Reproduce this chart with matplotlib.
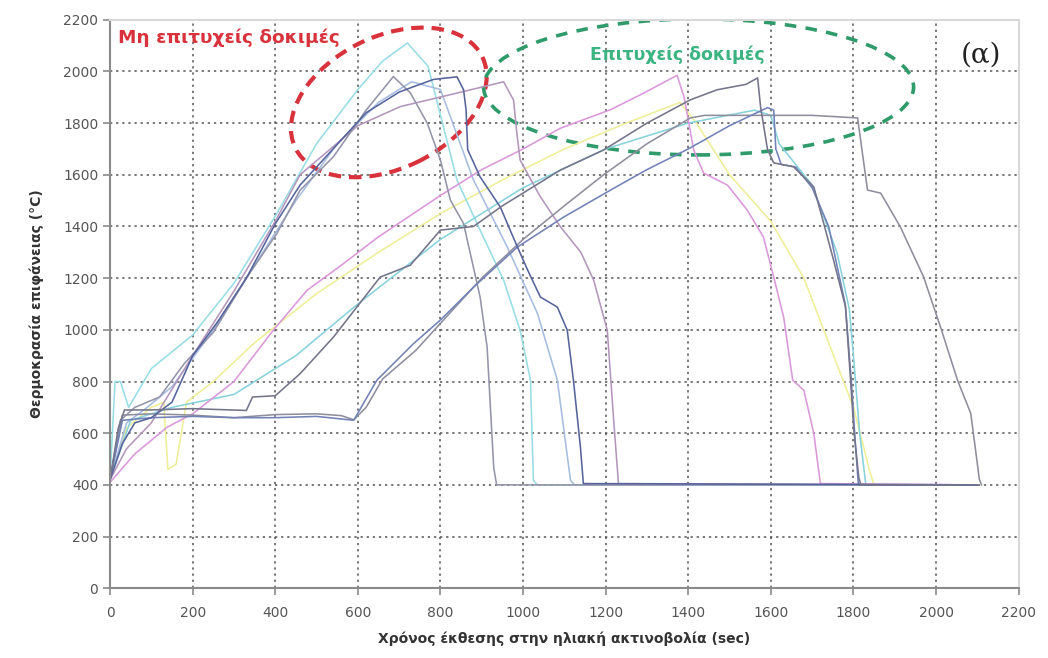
import matplotlib
matplotlib.use("Agg")
import matplotlib.pyplot as plt
from matplotlib.patches import Ellipse
from matplotlib.transforms import Affine2D, ScaledTranslation

plt.rcParams['font.family'] = ['DejaVu Sans']

# Surface temperature (°C) versus exposure time (sec) for each solar test run
# --- unsuccessful runs ---
fail_a_t = [0, 25, 60, 120, 180, 250, 330, 404, 460, 541, 620, 686, 727, 768, 800, 824, 856, 896, 913, 929, 936, 2100]
fail_a_T = [420, 650, 700, 740, 870, 990, 1200, 1373, 1540, 1670, 1850, 1980, 1917, 1800, 1657, 1502, 1411, 1127, 933, 467, 400, 400]

fail_b_t = [0, 30, 60, 100, 150, 200, 260, 330, 400, 460, 540, 620, 700, 735, 783, 840, 856, 862, 866, 896, 945, 976, 1010, 1042, 1083, 1107, 1122, 1139, 1146, 2100]
fail_b_T = [420, 560, 640, 660, 720, 900, 1030, 1200, 1410, 1560, 1700, 1840, 1920, 1941, 1969, 1979, 1929, 1852, 1697, 1592, 1475, 1359, 1235, 1127, 1088, 999, 805, 545, 405, 400]

fail_c_t = [0, 12, 25, 45, 100, 200, 300, 400, 500, 600, 660, 720, 770, 840, 896, 953, 993, 1018, 1025, 1035, 2100]
fail_c_T = [420, 800, 800, 700, 850, 980, 1180, 1440, 1720, 1930, 2040, 2110, 2020, 1580, 1386, 1192, 998, 805, 417, 400, 400]

fail_d_t = [0, 40, 90, 150, 250, 350, 450, 550, 650, 730, 800, 880, 962, 1035, 1083, 1115, 1125, 2100]
fail_d_T = [420, 640, 700, 780, 1000, 1250, 1500, 1720, 1880, 1960, 1930, 1580, 1320, 1063, 805, 417, 400, 400]

fail_e_t = [0, 40, 100, 200, 300, 400, 460, 600, 703, 850, 953, 977, 985, 993, 1040, 1090, 1140, 1171, 1204, 1219, 1231, 2100]
fail_e_T = [420, 540, 640, 900, 1150, 1420, 1600, 1790, 1864, 1920, 1960, 1889, 1761, 1657, 1520, 1400, 1300, 1192, 998, 660, 405, 400]

# --- successful runs ---
ok_pink_t = [0, 60, 138, 201, 300, 395, 477, 560, 650, 800, 900, 1000, 1090, 1212, 1292, 1373, 1390, 1413, 1437, 1495, 1543, 1582, 1607, 1631, 1653, 1680, 1704, 1720, 2100]
ok_pink_T = [410, 520, 623, 676, 800, 998, 1153, 1250, 1360, 1520, 1620, 1700, 1780, 1852, 1916, 1985, 1900, 1697, 1607, 1560, 1463, 1359, 1204, 1049, 805, 766, 599, 405, 400]

ok_yellow_t = [0, 40, 100, 130, 140, 160, 185, 250, 350, 500, 650, 800, 950, 1100, 1250, 1380, 1420, 1500, 1600, 1680, 1740, 1800, 1840, 1850, 2100]
ok_yellow_T = [420, 620, 700, 720, 460, 480, 720, 800, 950, 1140, 1300, 1450, 1580, 1700, 1800, 1880, 1800, 1600, 1420, 1200, 950, 700, 450, 400, 400]

ok_dark_t = [0, 20, 35, 100, 200, 330, 345, 400, 460, 541, 654, 727, 800, 880, 950, 1090, 1195, 1300, 1405, 1470, 1540, 1568, 1575, 1592, 1607, 1655, 1704, 1728, 1752, 1781, 1793, 1801, 1813, 1818, 2100]
ok_dark_T = [420, 620, 690, 690, 695, 688, 740, 745, 830, 972, 1204, 1250, 1386, 1400, 1480, 1618, 1696, 1800, 1890, 1929, 1950, 1975, 1864, 1697, 1646, 1631, 1553, 1412, 1269, 1088, 805, 611, 428, 400, 400]

ok_blue_t = [0, 30, 100, 200, 300, 400, 500, 560, 590, 646, 735, 800, 880, 986, 1098, 1212, 1300, 1400, 1500, 1592, 1607, 1612, 1625, 1660, 1700, 1740, 1780, 1795, 1805, 1812, 2100]
ok_blue_T = [420, 650, 660, 665, 660, 660, 665, 655, 650, 805, 947, 1038, 1165, 1320, 1436, 1541, 1620, 1700, 1790, 1860, 1850, 1700, 1640, 1630, 1550, 1400, 1100, 800, 550, 400, 400]

ok_flat_t = [0, 30, 100, 200, 300, 400, 500, 560, 590, 620, 660, 740, 820, 900, 1000, 1100, 1195, 1300, 1405, 1440, 1700, 1810, 1834, 1866, 1914, 1970, 2011, 2052, 2084, 2105, 2110]
ok_flat_T = [420, 670, 675, 670, 660, 672, 675, 668, 652, 700, 810, 920, 1060, 1200, 1350, 1480, 1600, 1720, 1820, 1830, 1830, 1820, 1541, 1529, 1397, 1204, 1010, 805, 677, 420, 400]

ok_cyan_t = [0, 50, 150, 300, 450, 600, 800, 1000, 1200, 1400, 1560, 1600, 1620, 1700, 1760, 1790, 1800, 1815, 1830, 2100]
ok_cyan_T = [420, 650, 700, 750, 900, 1100, 1350, 1550, 1700, 1800, 1850, 1830, 1720, 1560, 1300, 1080, 900, 600, 400, 400]

series = [
    (ok_yellow_t, ok_yellow_T, '#eeee98'),
    (fail_c_t, fail_c_T, '#98dde6'),
    (ok_cyan_t, ok_cyan_T, '#88d2dc'),
    (fail_d_t, fail_d_T, '#a6bce0'),
    (ok_pink_t, ok_pink_T, '#da98da'),
    (fail_e_t, fail_e_T, '#b496bc'),
    (fail_a_t, fail_a_T, '#9494aa'),
    (ok_flat_t, ok_flat_T, '#8e8e9e'),
    (ok_blue_t, ok_blue_T, '#7282b6'),
    (fail_b_t, fail_b_T, '#56649c'),
    (ok_dark_t, ok_dark_T, '#74748a'),
]

fig = plt.figure(figsize=(10.48, 6.58), dpi=100)
ax = fig.add_axes([0.105, 0.106, 0.867, 0.864])

for t, T, c in series:
    ax.plot(t, T, color=c, lw=1.15, solid_joinstyle='round')

ax.set_xlim(0, 2200)
ax.set_ylim(0, 2200)
ax.set_xticks(range(0, 2201, 200))
ax.set_yticks(range(0, 2201, 200))
ax.grid(True, color='#555555', linestyle=(0, (1.5, 2.5)), linewidth=1.1)
ax.set_axisbelow(True)

for side in ('top', 'right'):
    ax.spines[side].set_color('#d8d8d8')
    ax.spines[side].set_linewidth(1.5)
for side in ('left', 'bottom'):
    ax.spines[side].set_color('#8a8a8a')
    ax.spines[side].set_linewidth(1.5)

ax.tick_params(axis='both', colors='#8a8a8a', labelcolor='#555555', labelsize=10, length=5, width=1.2)
ax.tick_params(axis='x', pad=8)

ax.set_xlabel('Χρόνος έκθεσης στην ηλιακή ακτινοβολία (sec)', fontsize=10, fontweight='bold',
              color='#333333', labelpad=8)
ax.set_ylabel('Θερμοκρασία επιφάνειας (°C)', fontsize=10, fontweight='bold',
              color='#333333', labelpad=14)

# Group annotations
ax.text(20, 2130, 'Μη επιτυχείς δοκιμές', color='#d8323c', fontsize=13.3,
        fontweight='bold', ha='left', va='center')
ax.text(1374, 2065, 'Επιτυχείς δοκιμές', color='#3cb482', fontsize=12.5,
        fontweight='bold', ha='center', va='center')
ax.text(2158, 2065, '(α)', color='#222222', fontsize=20, family='DejaVu Serif',
        ha='right', va='center')


def group_ring(cx, cy, w, h, ang, color, lw, dash):
    tr = Affine2D() + ScaledTranslation(cx, cy, ax.transData)
    e = Ellipse((0, 0), w, h, angle=ang, transform=tr, fill=False,
                edgecolor=color, linewidth=lw, linestyle=(0, dash))
    ax.add_patch(e)


group_ring(675, 1880, 208, 132, 26, '#d8323c', 3.0, (3.0, 1.9))
group_ring(1425, 1940, 430, 136, 0, '#2f9a6a', 2.6, (3.2, 2.6))

fig.savefig('out.png', dpi=100)
